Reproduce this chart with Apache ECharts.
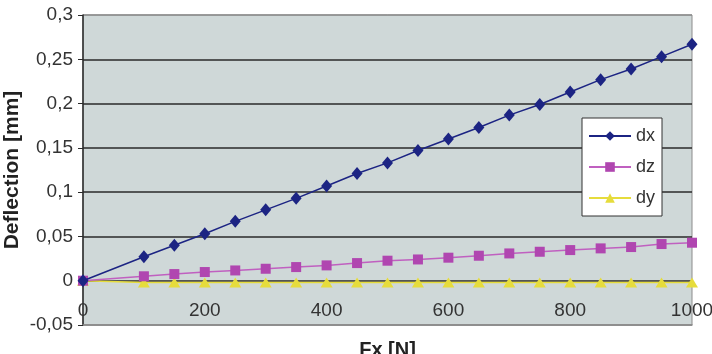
<!DOCTYPE html>
<html>
<head>
<meta charset="utf-8">
<script src="https://cdn.jsdelivr.net/npm/echarts@6/dist/echarts.min.js"></script>
<style>
  html, body { margin: 0; padding: 0; background: #fff; }
  #chart { width: 712px; height: 354px; }
</style>
</head>
<body>
<div id="chart"></div>
<script>
// load steps [N]
var loads = [0, 100, 150, 200, 250, 300, 350, 400, 450, 500, 550, 600, 650, 700, 750, 800, 850, 900, 950, 1000];
// deflections [mm]
var dx = [0, 0.027, 0.040, 0.053, 0.067, 0.080, 0.093, 0.107, 0.121, 0.133, 0.147, 0.160, 0.173, 0.187, 0.199, 0.213, 0.227, 0.239, 0.253, 0.267];
var dz = [0, 0.005, 0.0075, 0.0098, 0.0116, 0.0135, 0.0154, 0.0173, 0.0199, 0.0226, 0.024, 0.026, 0.0282, 0.0308, 0.0327, 0.0346, 0.0365, 0.038, 0.0414, 0.0429];
var dy = [0, -0.002, -0.002, -0.002, -0.002, -0.002, -0.002, -0.002, -0.002, -0.002, -0.002, -0.002, -0.002, -0.002, -0.002, -0.002, -0.002, -0.002, -0.002, -0.002];
var seriesNames = ['dx', 'dz', 'dy'];

function pairs(ys) {
	var out = [];
	for (var i = 0; i < loads.length; i++) out.push([loads[i], ys[i]]);
	return out;
}

var font = '"Liberation Sans", Arial, sans-serif';
var myChart = echarts.init(document.getElementById('chart'));
var option = {
	animation : false,
	textStyle : { fontFamily : font },
	grid : {
		left : 83, right : 20, top : 15, bottom : 29,
		outerBoundsMode : 'none',
		containLabel : false,
		show : true,
		backgroundColor : '#cfd8d8',
		borderColor : '#8c8c8c',
		borderWidth : 1
	},
	legend : {
		orient : 'vertical',
		left : 582, top : 118,
		backgroundColor : '#fff',
		borderColor : '#333',
		borderWidth : 1,
		borderRadius : 0,
		padding : [9, 7, 9, 6],
		itemGap : 13,
		itemWidth : 42,
		itemHeight : 12,
		textStyle : { fontSize : 18, color : '#333', fontFamily : font },
		data : seriesNames
	},
	xAxis : {
		type : 'value',
		min : 0, max : 1000, interval : 200,
		name : 'Fx [N]',
		nameLocation : 'middle',
		nameGap : 15,
		nameMoveOverlap : false,
		nameTextStyle : { fontSize : 20, fontWeight : 'bold', color : '#222' },
		axisLine : { onZero : false, lineStyle : { color : '#8c8c8c', width : 1.5 } },
		axisTick : { show : false },
		// tick labels sit inside the plot, just under the zero line
		axisLabel : {
			inside : true, margin : 5,
			fontSize : 19, color : '#333',
			formatter : function(v) { return String(v); }
		},
		splitLine : { show : false }
	},
	yAxis : {
		type : 'value',
		min : -0.05, max : 0.3, interval : 0.05,
		name : 'Deflection [mm]',
		nameLocation : 'middle',
		nameGap : 60,
		nameMoveOverlap : false,
		nameTextStyle : { fontSize : 21, fontWeight : 'bold', color : '#222' },
		axisLine : { show : true, onZero : false, lineStyle : { color : '#2a2a2a', width : 1.5 } },
		axisTick : { show : true, length : 5, lineStyle : { color : '#2a2a2a' } },
		axisLabel : {
			fontSize : 19, color : '#333', margin : 10,
			formatter : function(v) {
				return String(Math.round(v * 100) / 100).replace('.', ',');
			}
		},
		splitLine : {
			show : true,
			lineStyle : {
				color : ['#8c8c8c', '#2a2a2a', '#2a2a2a', '#2a2a2a', '#2a2a2a', '#2a2a2a', '#2a2a2a', '#8c8c8c'],
				width : 1.5
			}
		}
	},
	series : [
		{
			name : 'dx', type : 'line', data : pairs(dx),
			symbol : 'diamond', symbolSize : [11, 13],
			itemStyle : { color : '#1c2483' },
			lineStyle : { color : '#1c2483', width : 1.5 },
			z : 4
		},
		{
			name : 'dz', type : 'line', data : pairs(dz),
			symbol : 'rect', symbolSize : 10,
			itemStyle : { color : '#b046b0' },
			lineStyle : { color : '#c060c0', width : 1.5 },
			z : 3
		},
		{
			name : 'dy', type : 'line', data : pairs(dy),
			symbol : 'triangle', symbolSize : [12, 10],
			itemStyle : { color : '#e6dc3c' },
			lineStyle : { color : '#e6dc3c', width : 1.5 },
			z : 2
		}
	]
};
myChart.setOption(option);
</script>
</body>
</html>
